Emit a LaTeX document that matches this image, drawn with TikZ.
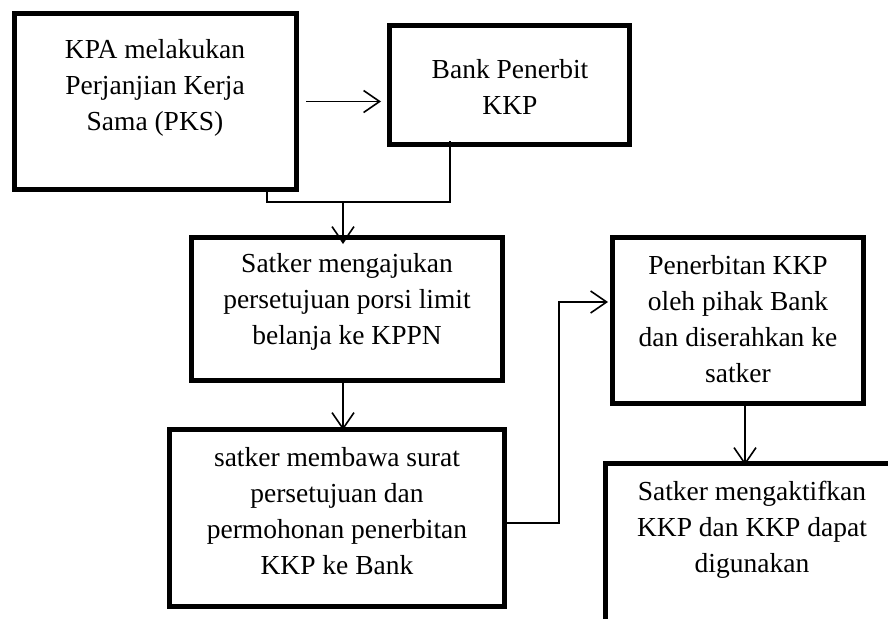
\documentclass[tikz,border=0pt]{standalone}
\usepackage{fontspec}
\setmainfont{Liberation Serif}
\usetikzlibrary{arrows.meta}
\begin{document}
\begin{tikzpicture}[x=1pt,y=-1pt,
  boxst/.style={draw=black, line width=5pt, rectangle, inner sep=0pt},
  txt/.style={align=center, inner sep=0pt, font=\fontsize{27.5}{36}\selectfont},
  conn/.style={draw=black, line width=1.6pt},
  arr/.style={conn, -{Straight Barb[length=16pt,width=22pt,line width=1.6pt]}}]
\clip (0,0) rectangle (888,618);
\fill[white] (0,0) rectangle (888,618);
% boxes
\node[boxst, minimum width=282pt, minimum height=176pt] (b1) at (155.5,101.5) {};
\node[boxst, minimum width=240pt, minimum height=119pt] (b2) at (509.5,85) {};
\node[boxst, minimum width=311pt, minimum height=143pt] (b3) at (347,309) {};
\node[boxst, minimum width=335pt, minimum height=177pt] (b4) at (337,518) {};
\node[boxst, minimum width=251pt, minimum height=166pt] (b5) at (738,320.5) {};
\node[boxst, minimum width=299.5pt, minimum height=176.5pt] (b6) at (755.25,551.75) {};
% texts
\node[txt] (t1) at (155,88) {KPA melakukan\\Perjanjian Kerja\\Sama (PKS)};
\node[txt] (t2) at (510,87) {Bank Penerbit\\KKP};
\node[txt] (t3) at (347,302) {Satker mengajukan\\persetujuan porsi limit\\belanja ke KPPN};
\node[txt] (t4) at (337,511) {satker membawa surat\\persetujuan dan\\permohonan penerbitan\\KKP ke Bank};
\node[txt] (t5) at (738,319) {Penerbitan KKP\\oleh pihak Bank\\dan diserahkan ke\\satker};
\node[txt] (t6) at (752,530) {Satker mengaktifkan\\KKP dan KKP dapat\\digunakan};
% helper coordinates
\coordinate (x267) at (267,0);
\coordinate (x450) at (450,0);
\coordinate (m1) at (343,202);
\coordinate (x745) at (745,0);
\coordinate (k1) at (559,523);
\coordinate (k2) at (559,302);
% connectors
\draw[arr] ([xshift=7pt]b1.east) -- ([xshift=-6pt]b2.west |- b1.east);
\draw[conn] (b1.south -| x267) |- (m1) -| ([yshift=6pt]b2.south -| x450);
\draw[arr] (m1) -- ([yshift=-9pt]b3.north -| m1);
\draw[arr] (b3.south -| m1) -- ([yshift=-3pt]b4.north -| m1);
\draw[arr] (b4.east |- k1) -- (k1) -- (k2) -- ([xshift=-2pt]b5.west |- k2);
\draw[arr] ([yshift=4pt]b5.south -| x745) -- ([yshift=-4pt]b6.north -| x745);
\end{tikzpicture}
\end{document}
